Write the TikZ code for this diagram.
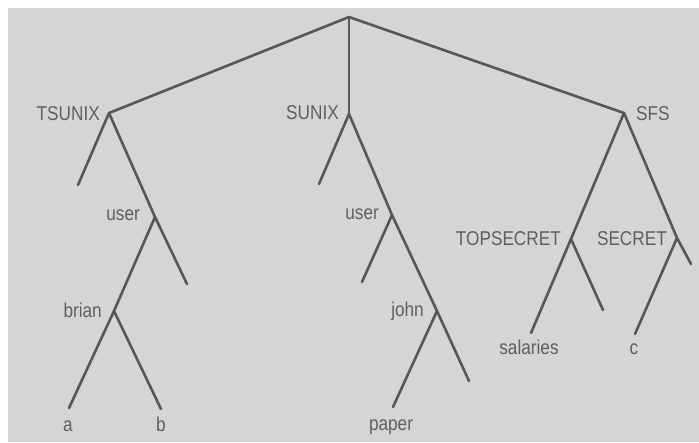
\documentclass[tikz,border=0pt]{standalone}
\usepackage{fontspec}
\setmainfont{Liberation Sans}[FakeStretch=0.86]
\definecolor{paper}{RGB}{212,214,214}
\definecolor{branch}{RGB}{92,86,81}
\definecolor{ink}{RGB}{95,95,95}
\begin{document}
\begin{tikzpicture}[x=1pt,y=-1pt,
  edge/.style={draw=branch,line width=2.6pt,line cap=round,line join=round},
  lbl/.style={text=ink,inner sep=0pt,font=\fontsize{20}{22}\selectfont}]
% page and shaded sheet
\fill[white] (0,0) rectangle (699,442);
\fill[paper] (7.5,8) rectangle (699,442);
\useasboundingbox (0,0) rectangle (699,442);

% junctions
\coordinate (root) at (349,17);
\coordinate (tsunix) at (109,113);
\coordinate (sunix) at (349,114);
\coordinate (sfs) at (624,113);
\coordinate (user1) at (155,217);
\coordinate (brian) at (114,311);
\coordinate (user2) at (392,215);
\coordinate (john) at (437,311);
\coordinate (topsecret) at (571,239);
\coordinate (secret) at (677,238);

% leaves
\coordinate (tsleaf) at (78,185);
\coordinate (u1leaf) at (187,284);
\coordinate (a) at (69,408);
\coordinate (b) at (161,409);
\coordinate (sleaf) at (319,184);
\coordinate (u2leaf) at (362,282);
\coordinate (paper) at (393,407);
\coordinate (jleaf) at (469,381);
\coordinate (salaries) at (531,333);
\coordinate (tsrleaf) at (603,310);
\coordinate (c) at (635,334);
\coordinate (secleaf) at (691,264);

% branches
\draw[edge] (tsunix) -- (root) -- (sfs);
\draw[edge] (root) -- (sunix);
\draw[edge] (tsleaf) -- (tsunix) -- (user1) -- (u1leaf);
\draw[edge] (user1) -- (brian) -- (a);
\draw[edge] (brian) -- (b);
\draw[edge] (sleaf) -- (sunix) -- (user2) -- (john) -- (jleaf);
\draw[edge] (user2) -- (u2leaf);
\draw[edge] (john) -- (paper);
\draw[edge] (salaries) -- (topsecret) -- (sfs) -- (secret) -- (secleaf);
\draw[edge] (topsecret) -- (tsrleaf);
\draw[edge] (secret) -- (c);

% labels
\node[lbl,anchor=base east] (tTSUNIX) at (100,120) {TSUNIX};
\node[lbl,anchor=base east] (tSUNIX) at (339,119.5) {SUNIX};
\node[lbl,anchor=base west] (tSFS) at (636,120) {SFS};
\node[lbl,anchor=base east] (tuser1) at (140,220) {user};
\node[lbl,anchor=base east] (tuser2) at (379,219.5) {user};
\node[lbl,anchor=base east] (tTOPSECRET) at (561,245) {TOPSECRET};
\node[lbl,anchor=base east] (tSECRET) at (667,245) {SECRET};
\node[lbl,anchor=base east] (tbrian) at (102,317) {brian};
\node[lbl,anchor=base east] (tjohn) at (424,316.5) {john};
\node[lbl,anchor=base] (ta) at (68,431) {a};
\node[lbl,anchor=base] (tb) at (161,431) {b};
\node[lbl,anchor=base] (tpaper) at (391,430) {paper};
\node[lbl,anchor=base] (tsalaries) at (529,354) {salaries};
\node[lbl,anchor=base] (tc) at (634,354) {c};
\end{tikzpicture}
\end{document}
